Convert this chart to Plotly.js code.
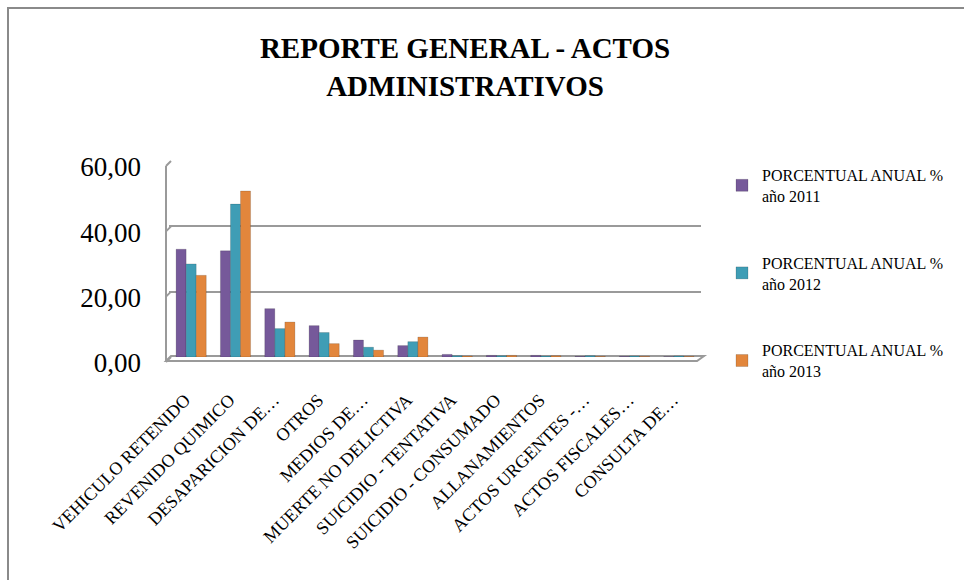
<!DOCTYPE html>
<html>
<head>
<meta charset="utf-8">
<script src="https://cdn.plot.ly/plotly-3.0.1.min.js"></script>
<style>
html,body{margin:0;padding:0;background:#fff;}
#chart{width:964px;height:580px;position:absolute;left:0;top:0;}
#frame{position:absolute;left:7px;top:7px;width:1000px;height:600px;border-left:2px solid #8a8a8a;border-top:2px solid #8a8a8a;pointer-events:none;}
</style>
</head>
<body>
<div id="chart"></div>
<div id="frame"></div>
<script>
const categories = [
  "VEHICULO RETENIDO","REVENIDO QUIMICO","DESAPARICION DE…","OTROS","MEDIOS DE…",
  "MUERTE NO DELICTIVA","SUICIDIO - TENTATIVA","SUICIDIO - CONSUMADO","ALLANAMIENTOS",
  "ACTOS URGENTES -…","ACTOS FISCALES…","CONSULTA DE…"
];
const seriesNames = [
  "PORCENTUAL ANUAL %<br>año 2011",
  "PORCENTUAL ANUAL %<br>año 2012",
  "PORCENTUAL ANUAL %<br>año 2013"
];
const values2011 = [33.0, 32.5, 14.8, 9.6, 5.2, 3.5, 0.8, 0.5, 0.5, 0.2, 0.2, 0.1];
const values2012 = [28.5, 46.8, 8.7, 7.5, 3.0, 4.7, 0.4, 0.4, 0.3, 0.4, 0.3, 0.3];
const values2013 = [25.0, 50.8, 10.7, 4.1, 2.1, 6.1, 0.3, 0.5, 0.4, 0.2, 0.2, 0.2];
const yTicks = [0, 20, 40, 60];

const colors = ["#76599a", "#3f9db5", "#e2863c"];
const allValues = [values2011, values2012, values2013];

const traces = allValues.map((v, i) => ({
  type: "bar",
  name: seriesNames[i],
  x: categories,
  y: v,
  marker: {color: colors[i], line: {color: "rgba(0,0,0,0.15)", width: 1}},
  legendgroup: "g" + i,
  hoverinfo: "x+y"
}));

const W = 964, H = 580;
const mL = 169, mR = W - 701, mT = 161, mB = H - 357;
const pw = W - mL - mR, ph = H - mT - mB;
function px(x){ return (x - mL) / pw; }
function py(y){ return (H - mB - y) / ph; }

const gray = "#9a9a9a";
const shapes = [];
shapes.push({type:"line", xref:"paper", yref:"paper", x0:px(166), y0:py(361), x1:px(166), y1:py(166), line:{color:gray,width:2}});
yTicks.forEach(t => {
  const yb = 357 - t * (357 - 161) / 60;
  shapes.push({type:"line", xref:"paper", yref:"paper", x0:px(166), y0:py(yb + 5), x1:px(171), y1:py(yb), line:{color:gray,width:2}});
});
shapes.push({type:"path", xref:"paper", yref:"paper",
  path:`M ${px(166)} ${py(361)} L ${px(697)} ${py(361)} L ${px(704)} ${py(356)} L ${px(171)} ${py(356)} Z`,
  line:{color:gray,width:2}, fillcolor:"rgba(0,0,0,0)", layer:"below"});

const serif = "Liberation Serif, Times New Roman, serif";
const layout = {
  width: W, height: H,
  margin: {l: mL, r: mR, t: mT, b: mB, pad: 0},
  paper_bgcolor: "#fff", plot_bgcolor: "#fff",
  separators: ",.",
  font: {family: serif, color: "#000"},
  title: {
    text: "<b>REPORTE GENERAL - ACTOS<br>ADMINISTRATIVOS</b>",
    font: {family: serif, size: 29, color: "#000"},
    x: 465 / W, xanchor: "center", xref: "container",
    y: 1 - 58 / H, yanchor: "top", yref: "container"
  },
  barmode: "group",
  bargap: 0.32,
  bargroupgap: 0,
  xaxis: {
    type: "category",
    tickangle: -45,
    tickfont: {family: serif, size: 18, color: "#000"},
    showgrid: false, showline: false, zeroline: false, ticks: "",
    ticklabelstandoff: 28,
    ticklabelshift: -6
  },
  yaxis: {
    range: [0, 60],
    tickvals: yTicks,
    tickformat: ".2f",
    tickfont: {family: serif, size: 27, color: "#000"},
    showgrid: true, gridcolor: gray, gridwidth: 2,
    zeroline: false, showline: false, ticks: "",
    ticklabelstandoff: 27,
    ticklabelshift: 6
  },
  legend: {
    x: 722 / W, xref: "container", xanchor: "left",
    y: 1 - 158 / H, yref: "container", yanchor: "top",
    font: {family: serif, size: 16, color: "#000"},
    tracegroupgap: 43,
    itemwidth: 30,
    traceorder: "grouped",
    bgcolor: "rgba(0,0,0,0)"
  },
  shapes: shapes,
  showlegend: true
};

Plotly.newPlot("chart", traces, layout, {displayModeBar: false, staticPlot: true});
</script>
</body>
</html>
